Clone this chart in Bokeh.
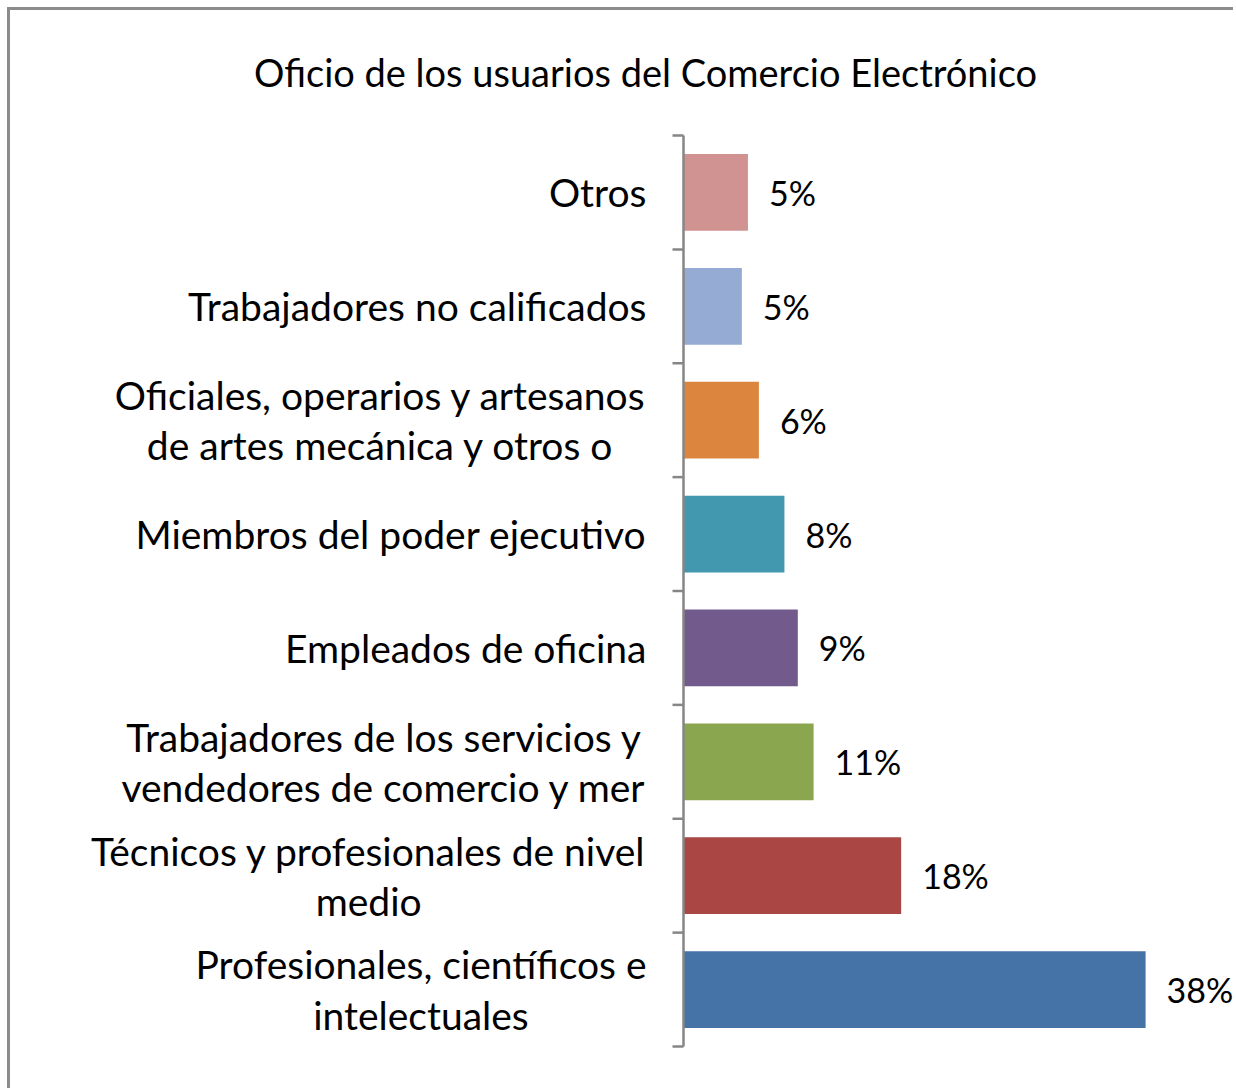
import math
from bokeh.plotting import figure
from bokeh.models import Range1d, ColumnDataSource
from bokeh.core.properties import value
from bokeh.embed import file_html
from bokeh.resources import INLINE

# ---- data (bottom to top) ----
title_text = "Oficio de los usuarios del Comercio Electrónico"
categories = [
    "Profesionales, científicos e\nintelectuales",
    "Técnicos y profesionales de nivel\nmedio",
    "Trabajadores de los servicios y\nvendedores de comercio y mer",
    "Empleados de oficina",
    "Miembros del poder ejecutivo",
    "Oficiales, operarios y artesanos\nde artes mecánica y otros o",
    "Trabajadores no calificados",
    "Otros",
]
values = [38.0, 17.9, 10.7, 9.4, 8.3, 6.2, 4.8, 5.3]
value_labels = ["38%", "18%", "11%", "9%", "8%", "6%", "5%", "5%"]
colors = ["#4572A7", "#AA4744", "#8AA64F", "#725A8D",
          "#4298AF", "#DC853F", "#95ABD4", "#D19392"]

# ---- layout / style ----
FONT = "Lato"
TITLE_SIZE = "38px"
CAT_SIZE = "39px"
VAL_SIZE = "34px"
AXIS_COLOR = "#868686"
BORDER = 3
W, H = 1226, 1081           # canvas size
AXIS_X = 673                # canvas x of the category axis
PLOT_TOP, PLOT_BOTTOM = 125, 1036
PX_PER_PCT = 12.16

n = len(categories)
centers = [i + 0.5 for i in range(n)]
boundaries = [float(i) for i in range(n + 1)]
px_per_row = (PLOT_BOTTOM - PLOT_TOP) / n

src = ColumnDataSource(dict(y=centers, val=values, lab=value_labels,
                            col=colors, cat=categories))

p = figure(width=W, height=H,
           x_range=Range1d(-AXIS_X / PX_PER_PCT, (W - AXIS_X) / PX_PER_PCT),
           y_range=Range1d(-(H - PLOT_BOTTOM) / px_per_row, n + PLOT_TOP / px_per_row),
           output_backend="svg", toolbar_location=None,
           x_axis_location=None, y_axis_location=None,
           min_border=0)
p.outline_line_color = None
p.xgrid.visible = False
p.ygrid.visible = False
p.background_fill_color = "white"
p.border_fill_color = "white"
p.styles = {"margin-left": "7px", "margin-top": "7px",
            "border-top": f"{BORDER}px solid #8C8C8C",
            "border-left": f"{BORDER}px solid #8C8C8C"}

# bars
p.hbar(y="y", right="val", left=0, height=0.675, fill_color="col",
       line_color=None, source=src)

# category axis line and boundary ticks
p.segment(x0=[0], x1=[0], y0=[0], y1=[n], line_color=AXIS_COLOR, line_width=2.5)
p.ray(x=[0] * len(boundaries), y=boundaries, length=11, length_units="screen",
      angle=math.pi, line_color=AXIS_COLOR, line_width=2.5)

# category labels (block right-anchored, lines centred)
p.text(x=0, y="y", text="cat", source=src, x_offset=-37,
       anchor="center_right", text_align="center", text_baseline="middle",
       text_line_height=1.09,
       text_font=value(FONT), text_font_size=CAT_SIZE, text_color="black")

# value labels
p.text(x="val", y="y", text="lab", source=src, x_offset=21,
       text_align="left", text_baseline="middle",
       text_font=value(FONT), text_font_size=VAL_SIZE, text_color="black")

# title
p.text(x=[0], y=[n + PLOT_TOP / px_per_row], text=[title_text],
       x_offset=-38, y_offset=61, text_align="center", text_baseline="middle",
       text_font=value(FONT), text_font_size=TITLE_SIZE, text_color="black")

open("out.html", "w").write(file_html(p, INLINE))
